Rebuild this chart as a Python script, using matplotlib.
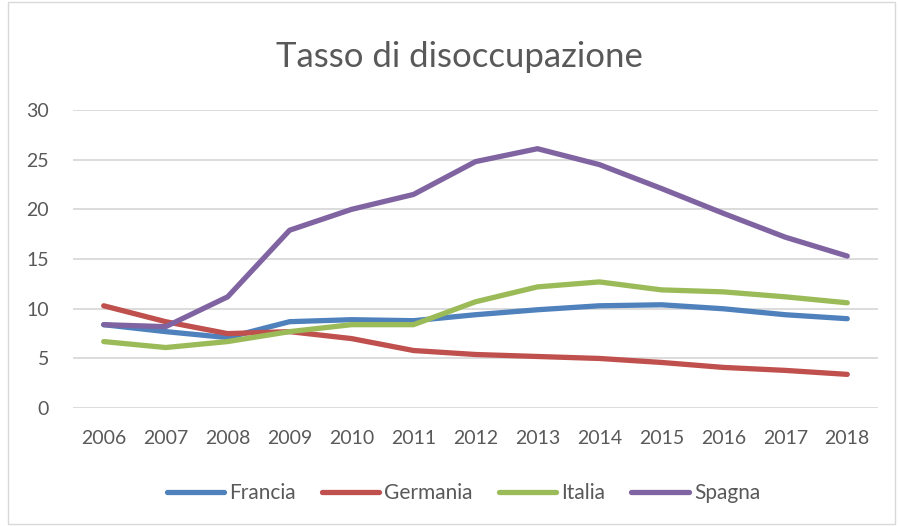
import matplotlib.pyplot as plt
from matplotlib.patches import Rectangle

plt.rcParams['font.family'] = ['Lato', 'DejaVu Sans']

years = ['2006', '2007', '2008', '2009', '2010', '2011', '2012',
         '2013', '2014', '2015', '2016', '2017', '2018']
francia = [8.4, 7.7, 7.1, 8.7, 8.9, 8.8, 9.4, 9.9, 10.3, 10.4, 10.0, 9.4, 9.0]
germania = [10.3, 8.7, 7.5, 7.7, 7.0, 5.8, 5.4, 5.2, 5.0, 4.6, 4.1, 3.8, 3.4]
italia = [6.7, 6.1, 6.7, 7.7, 8.4, 8.4, 10.7, 12.2, 12.7, 11.9, 11.7, 11.2, 10.6]
spagna = [8.4, 8.2, 11.2, 17.9, 20.0, 21.5, 24.8, 26.1, 24.5, 22.1, 19.6, 17.2, 15.3]

series = [('Francia', francia, '#4F81BD'),
          ('Germania', germania, '#C0504D'),
          ('Italia', italia, '#9BBB59'),
          ('Spagna', spagna, '#8064A2')]

fig = plt.figure(figsize=(8.98, 5.26), dpi=100)
ax = fig.add_axes([0.081, 0.224, 0.897, 0.567])

x = range(len(years))
for name, vals, col in series:
    ax.plot(x, vals, color=col, lw=3.8, label=name, solid_capstyle='round')

ax.set_xlim(-0.5, len(years) - 0.5)
ax.set_ylim(0, 30)
ax.set_yticks(range(0, 31, 5))
ax.set_xticks(list(x))
ax.set_xticklabels(years)
ax.grid(axis='y', color='#D9D9D9', lw=1.3)
ax.set_axisbelow(True)
for s in ax.spines.values():
    s.set_visible(False)
ax.tick_params(length=0, labelsize=14, colors='#595959')
ax.tick_params(axis='x', pad=16)
ax.tick_params(axis='y', pad=17)

fig.text(0.512, 0.892, 'Tasso di disoccupazione', ha='center', va='center',
         fontsize=25, color='#595959')

leg = fig.legend(loc='center', bbox_to_anchor=(0.516, 0.062), ncol=4, frameon=False,
                 fontsize=15, handlelength=2.75, columnspacing=1.25, handletextpad=0.25)
for t in leg.get_texts():
    t.set_color('#595959')

fig.patches.append(Rectangle((0.009, 0.004), 0.988, 0.992, transform=fig.transFigure,
                             fill=False, edgecolor='#D9D9D9', lw=1))

fig.savefig('out.png', dpi=100)
